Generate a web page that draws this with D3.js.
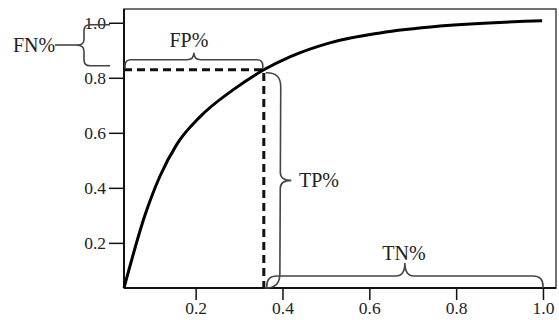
<!DOCTYPE html>
<html>
<head>
<meta charset="utf-8">
<script src="https://cdn.jsdelivr.net/npm/d3@7"></script>
<style>
  body { margin: 0; background: #fff; }
  svg { display: block; font-family: "Liberation Serif", "Times New Roman", serif; }
</style>
</head>
<body>
<div id="chart"></div>
<script>
// ROC curve (false positive rate, true positive rate)
const fpr = [0.035, 0.0834, 0.118, 0.157, 0.21, 0.286, 0.357, 0.417, 0.509, 0.625, 0.763, 0.998];
const tpr = [0.036, 0.301, 0.443, 0.559, 0.658, 0.756, 0.829, 0.876, 0.927, 0.963, 0.988, 1.007];

// operating point (dashed lines)
const opX = 0.357;
const opY = 0.829;

const xTicks = [0.2, 0.4, 0.6, 0.8, 1.0];
const yTicks = [0.2, 0.4, 0.6, 0.8, 1.0];
const xDomain = [0.035, 1.03];
const yDomain = [0.036, 1.05];

const width = 559;
const height = 320;
const margin = { top: 9, right: 3, bottom: 32, left: 124 };

const svg = d3
  .select("#chart")
  .append("svg")
  .attr("width", width)
  .attr("height", height);

const x = d3.scaleLinear().domain(xDomain).range([margin.left, width - margin.right]);
const y = d3.scaleLinear().domain(yDomain).range([height - margin.bottom, margin.top]);

const x0 = x(xDomain[0]);
const x1 = x(xDomain[1]);
const y0 = y(yDomain[0]);
const y1 = y(yDomain[1]);

// box
svg
  .append("rect")
  .attr("x", x0)
  .attr("y", y1)
  .attr("width", x1 - x0)
  .attr("height", y0 - y1)
  .attr("fill", "none")
  .attr("stroke", "#444")
  .attr("stroke-width", 1.5);

// axes
const xAxis = d3
  .axisBottom(x)
  .tickValues(xTicks)
  .tickSize(12)
  .tickPadding(2)
  .tickFormat(d3.format(".1f"));
const yAxis = d3
  .axisLeft(y)
  .tickValues(yTicks)
  .tickSize(15)
  .tickPadding(3)
  .tickFormat(d3.format(".1f"));

const gx = svg.append("g").attr("transform", `translate(0,${y0})`).call(xAxis);
const gy = svg.append("g").attr("transform", `translate(${x0},0)`).call(yAxis);

[gx, gy].forEach((g) => {
  g.select(".domain").remove();
  g.selectAll(".tick line").attr("stroke", "#111").attr("stroke-width", 1.5);
  g.selectAll(".tick text")
    .attr("fill", "#222")
    .style("font-size", "17.5px")
    .style("font-family", "Liberation Serif, serif");
});

svg
  .append("line")
  .attr("x1", x0)
  .attr("x2", x0)
  .attr("y1", y1)
  .attr("y2", y0)
  .attr("stroke", "#111")
  .attr("stroke-width", 2);
svg
  .append("line")
  .attr("x1", x0)
  .attr("x2", x1)
  .attr("y1", y0)
  .attr("y2", y0)
  .attr("stroke", "#111")
  .attr("stroke-width", 2);

// dashed guide lines
svg
  .append("path")
  .attr("d", `M${x0},${y(opY)}H${x(opX)}V${y0}`)
  .attr("fill", "none")
  .attr("stroke", "#111")
  .attr("stroke-width", 3)
  .attr("stroke-dasharray", "8,5");

// curve
const points = fpr.map((d, i) => [d, tpr[i]]);
const line = d3
  .line()
  .x((d) => x(d[0]))
  .y((d) => y(d[1]))
  .curve(d3.curveMonotoneX);

svg
  .append("path")
  .datum(points)
  .attr("d", line)
  .attr("fill", "none")
  .attr("stroke", "#000")
  .attr("stroke-width", 3);

// curly brace from a to b, bulging along normal n
function brace(a, b, n, d, t, r, s) {
  const len = Math.hypot(b[0] - a[0], b[1] - a[1]);
  const e = [(b[0] - a[0]) / len, (b[1] - a[1]) / len];
  const p = (u, v) => [a[0] + u * e[0] + v * n[0], a[1] + u * e[1] + v * n[1]].join(",");
  const m = len / 2;
  return (
    `M${p(0, 0)}L${p(0, d - r)}Q${p(0, d)} ${p(r, d)}` +
    `L${p(m - s, d)}Q${p(m, d)} ${p(m, d + t)}` +
    `Q${p(m, d)} ${p(m + s, d)}` +
    `L${p(len - r, d)}Q${p(len, d)} ${p(len, d - r)}L${p(len, 0)}`
  );
}

const braces = [
  // FN
  brace([110, y(opY) - 4], [110, y(1.0) + 2], [-1, 0], 26, 7, 6, 6),
  // FP
  brace([x0 + 1, y(opY) - 1], [x(opX) - 1, y(opY) - 1], [0, -1], 9, 7, 6, 7),
  // TP
  brace([x(opX) + 2, y(opY) + 3], [x(opX) + 1, y0], [1, 0], 15, 11, 14, 8),
  // TN
  brace([x(opX) + 3, y0], [x(1.0), y0], [0, -1], 12, 13, 10, 9),
];

svg
  .selectAll(".brace")
  .data(braces)
  .enter()
  .append("path")
  .attr("class", "brace")
  .attr("d", (d) => d)
  .attr("fill", "none")
  .attr("stroke", "#444")
  .attr("stroke-width", 1.6);

// FN leader line
svg
  .append("line")
  .attr("x1", 55)
  .attr("x2", 78)
  .attr("y1", 45)
  .attr("y2", 45)
  .attr("stroke", "#444")
  .attr("stroke-width", 1.6);

const labels = [
  { text: "FN%", x: 34, y: 52 },
  { text: "FP%", x: (x0 + x(opX)) / 2 - 5, y: 47 },
  { text: "TP%", x: 319, y: 187 },
  { text: "TN%", x: 404, y: 260 },
];

svg
  .selectAll(".label")
  .data(labels)
  .enter()
  .append("text")
  .attr("class", "label")
  .attr("x", (d) => d.x)
  .attr("y", (d) => d.y)
  .attr("text-anchor", "middle")
  .attr("fill", "#222")
  .style("font-size", "20px")
  .text((d) => d.text);
</script>
</body>
</html>
